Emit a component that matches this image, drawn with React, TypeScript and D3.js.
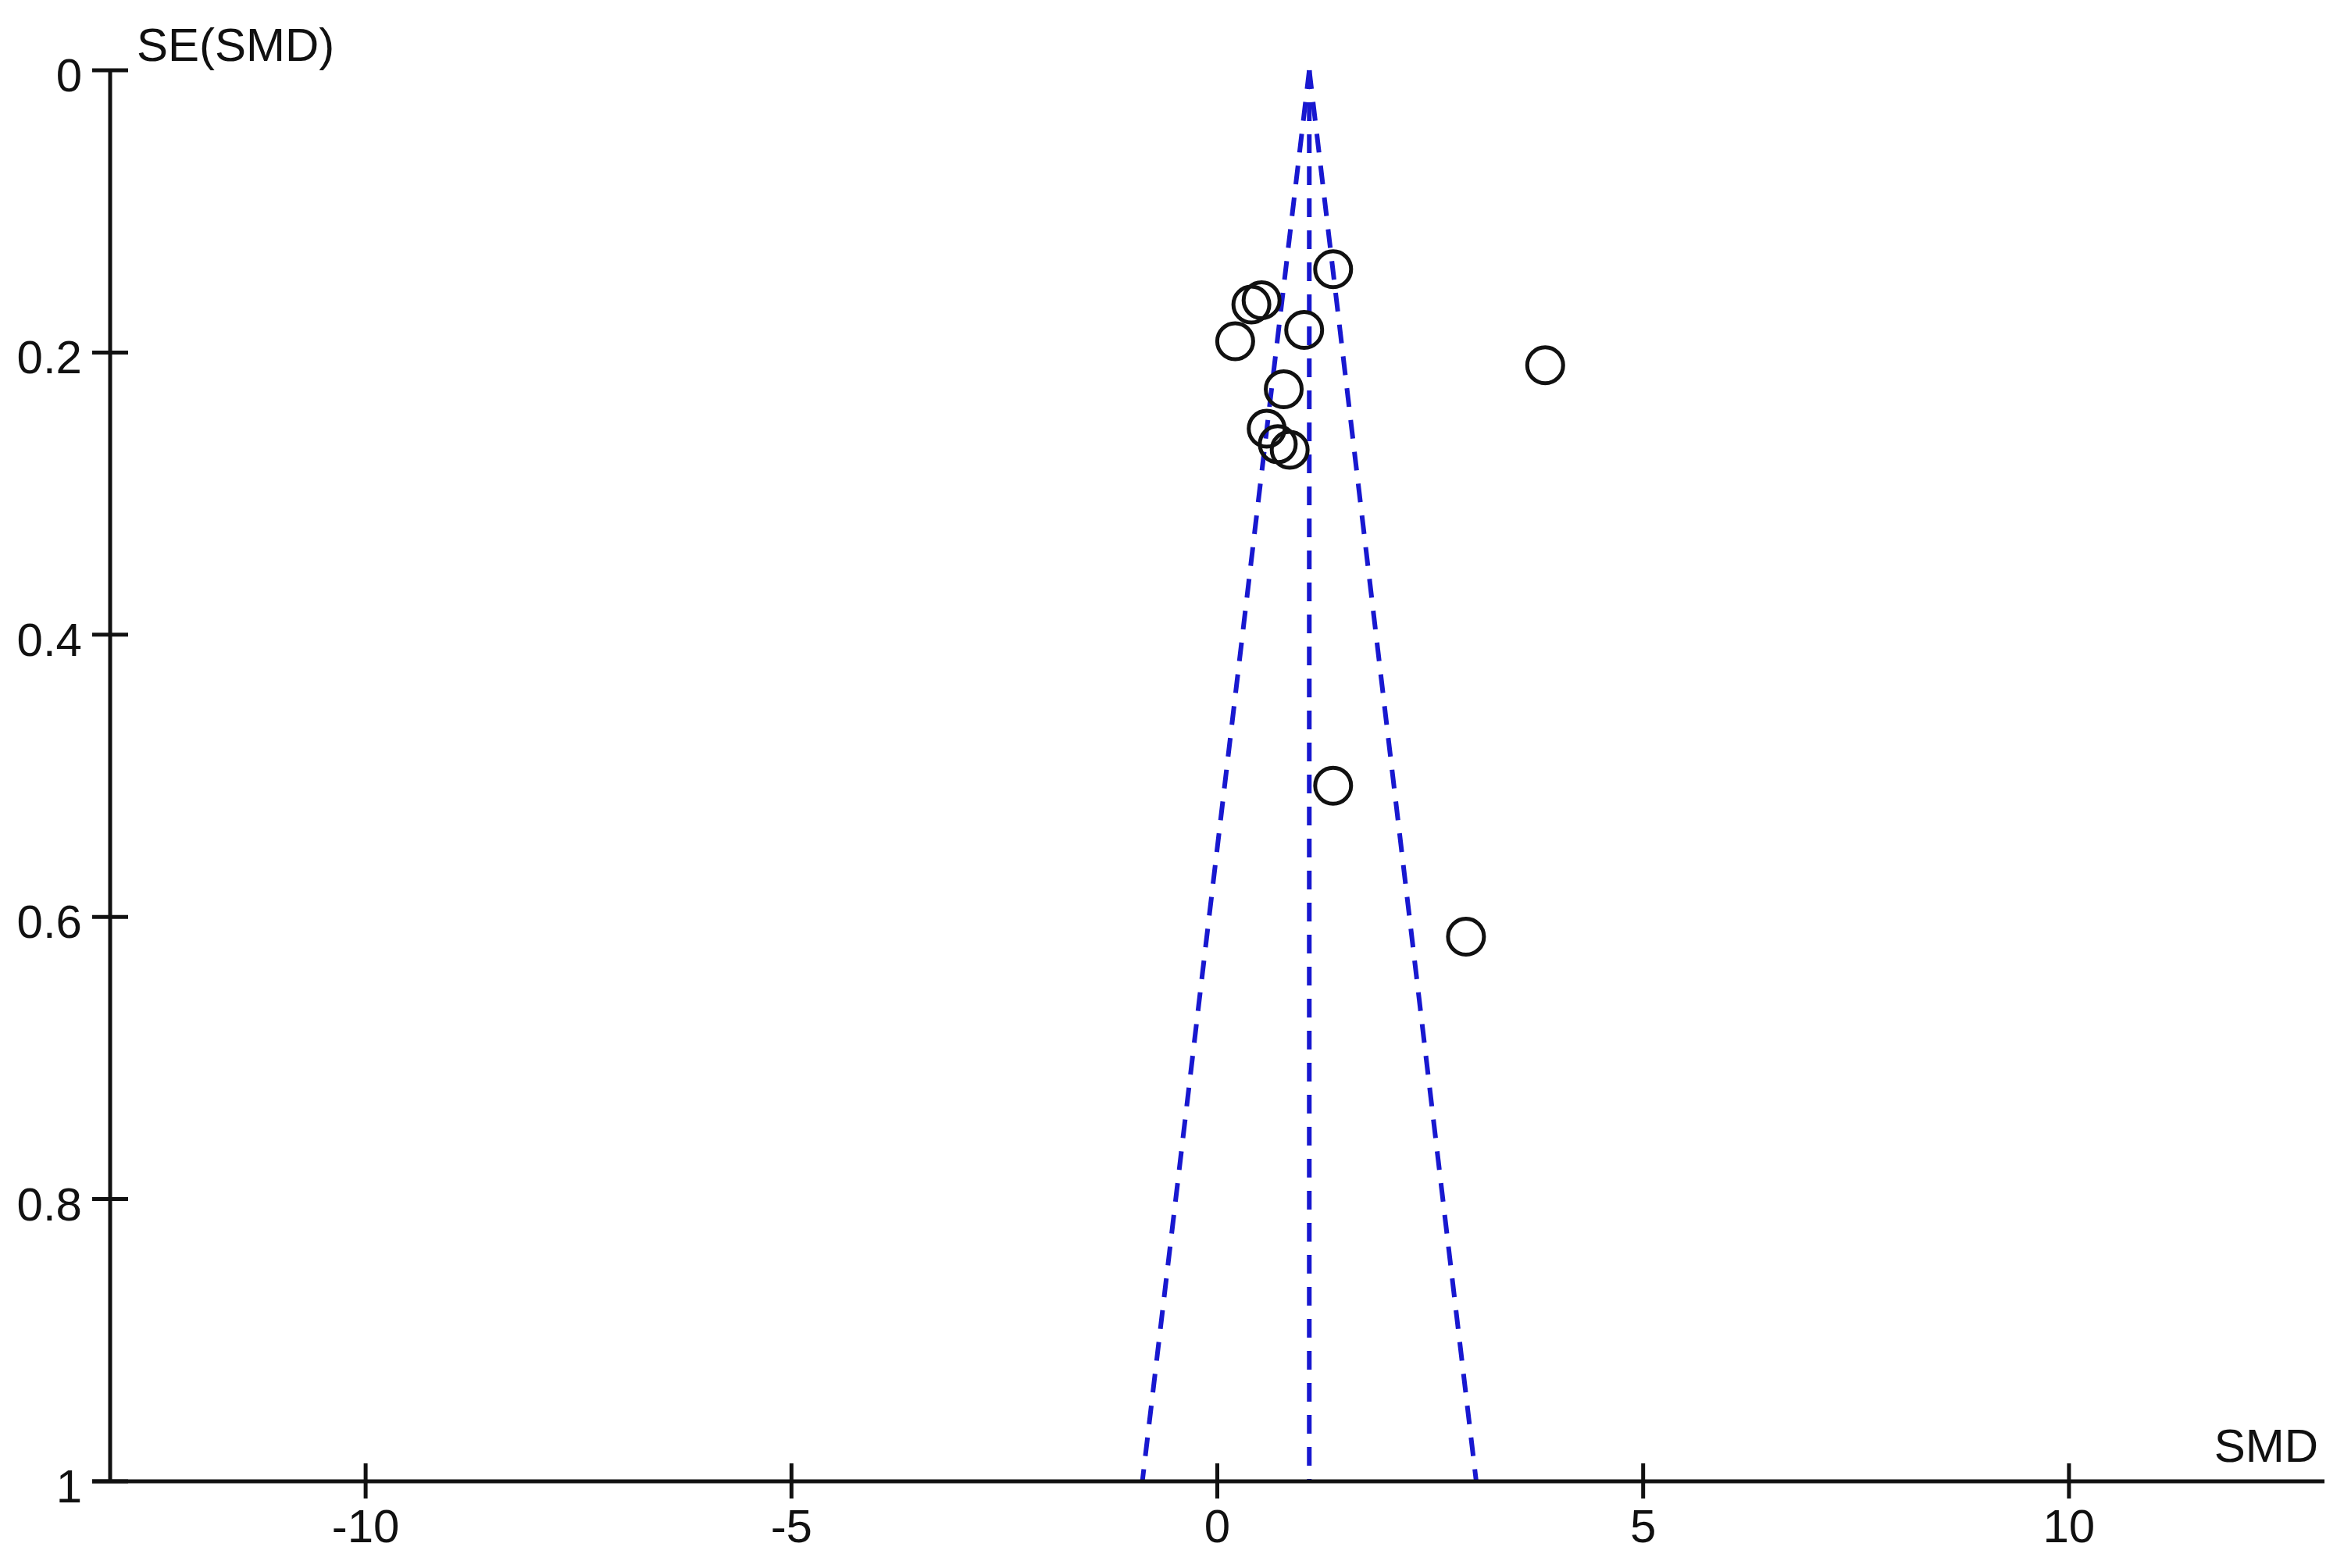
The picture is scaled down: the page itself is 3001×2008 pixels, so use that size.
import React from "react";
import * as d3 from "d3";

// study estimates
const studySMD = [1.36, 0.40, 0.52, 0.21, 1.02, 3.85, 0.78, 0.58, 0.71, 0.85, 1.36, 2.92];
const studySE = [0.141, 0.166, 0.163, 0.192, 0.184, 0.209, 0.226, 0.254, 0.265, 0.269, 0.507, 0.614];
const pooledSMD = 1.08;

const xTicks = [-10, -5, 0, 5, 10];
const xTickLabels = ["-10", "-5", "0", "5", "10"];
const yTicks = [0, 0.2, 0.4, 0.6, 0.8, 1];
const yTickLabels = ["0", "0.2", "0.4", "0.6", "0.8", "1"];

const W = 3001;
const H = 2008;
const FONT = "'Liberation Sans', Arial, sans-serif";

const App = () => {
    const x = d3.scaleLinear().domain([-13, 13]).range([141, 2976]);
    const y = d3.scaleLinear().domain([0, 1]).range([90, 1897]);

    const line = d3.line<[number, number]>()
        .x(d => x(d[0]))
        .y(d => y(d[1]));

    // funnel: pooled estimate +/- 1.96 SE, plus the vertical at the pooled value
    const funnel: [number, number][][] = [
        [[pooledSMD, 0], [pooledSMD - 1.96, 1]],
        [[pooledSMD, 0], [pooledSMD, 1]],
        [[pooledSMD, 0], [pooledSMD + 1.96, 1]],
    ];

    const x0 = x.range()[0];
    const x1 = x.range()[1];
    const yBottom = y(1);

    return (
        <svg width={W} height={H} viewBox={`0 0 ${W} ${H}`}
            style={{ position: "absolute", left: 0, top: 0, background: "#fff" }}>
            <rect x={0} y={0} width={W} height={H} fill="#fff" />

            {/* funnel lines */}
            {funnel.map((seg, i) => (
                <path key={i} d={line(seg) || ""} fill="none" stroke="#1818d0"
                    strokeWidth={6} strokeDasharray="24 17" />
            ))}

            {/* studies */}
            {studySMD.map((v, i) => (
                <circle key={i} cx={x(v)} cy={y(studySE[i])} r={23}
                    fill="none" stroke="#111" strokeWidth={5} />
            ))}

            {/* y axis */}
            <line x1={x0} x2={x0} y1={y(0)} y2={yBottom} stroke="#111" strokeWidth={5} />
            {yTicks.map((t, i) => (
                <g key={i}>
                    <line x1={x0 - 23} x2={x0 + 23} y1={y(t)} y2={y(t)} stroke="#111" strokeWidth={5} />
                    <text x={x0 - 36} y={y(t) + 27} textAnchor="end" fontFamily={FONT}
                        fontSize={60} fill="#111">{yTickLabels[i]}</text>
                </g>
            ))}
            <text x={175} y={78} fontFamily={FONT} fontSize={60} fill="#111">SE(SMD)</text>

            {/* x axis */}
            <line x1={x0 - 23} x2={x1} y1={yBottom} y2={yBottom} stroke="#111" strokeWidth={5} />
            {xTicks.map((t, i) => (
                <g key={i}>
                    <line x1={x(t)} x2={x(t)} y1={yBottom - 23} y2={yBottom + 22} stroke="#111" strokeWidth={5} />
                    <text x={x(t)} y={yBottom + 78} textAnchor="middle" fontFamily={FONT}
                        fontSize={60} fill="#111">{xTickLabels[i]}</text>
                </g>
            ))}
            <text x={2968} y={1872} textAnchor="end" fontFamily={FONT} fontSize={60} fill="#111">SMD</text>
        </svg>
    );
};

export default App;
